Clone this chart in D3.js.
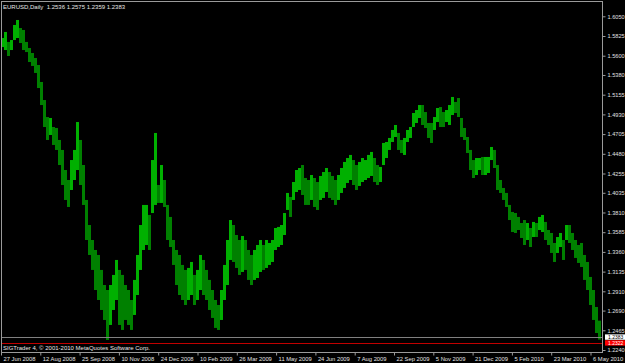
<!DOCTYPE html>
<html>
<head>
<meta charset="utf-8">
<script src="https://cdn.jsdelivr.net/npm/d3@7"></script>
<style>
  html, body { margin: 0; padding: 0; background: #000; }
  svg { display: block; }
  text { font-family: "Liberation Sans", Arial, sans-serif; }
</style>
</head>
<body>
<svg id="chart" width="625" height="363"></svg>
<script>
// EURUSD daily, each entry ~3 trading days (high / low)
const hi = [
  1.5802, 1.5871, 1.5757, 1.5779, 1.5951, 1.6008, 1.5916, 1.5894, 1.5757, 1.5688,
  1.5631, 1.5574, 1.5494, 1.5300, 1.5094, 1.4900, 1.4889, 1.4786, 1.4775, 1.4638,
  1.4524, 1.4295, 1.4181, 1.4409, 1.4524, 1.4843, 1.4638, 1.4352, 1.3953, 1.3667,
  1.3496, 1.3382, 1.3325, 1.3154, 1.2982, 1.2925, 1.2982, 1.3097, 1.3268, 1.3154,
  1.3097, 1.2982, 1.2925, 1.2811, 1.3040, 1.3325, 1.3667, 1.3896, 1.3896, 1.3782,
  1.4409, 1.4718, 1.4124, 1.4352, 1.4181, 1.3896, 1.3759, 1.3496, 1.3382, 1.3325,
  1.3211, 1.3154, 1.3177, 1.3245, 1.3097, 1.3154, 1.3325, 1.3268, 1.3154, 1.3040,
  1.2925, 1.2811, 1.2754, 1.2925, 1.3211, 1.3496, 1.3724, 1.3667, 1.3553, 1.3496,
  1.3542, 1.3496, 1.3382, 1.3325, 1.3382, 1.3439, 1.3496, 1.3439, 1.3496, 1.3462,
  1.3496, 1.3633, 1.3645, 1.3667, 1.3804, 1.4033, 1.3987, 1.4158, 1.4295, 1.4318,
  1.4352, 1.4204, 1.4181, 1.4238, 1.4204, 1.4158, 1.4227, 1.4272, 1.4318, 1.4272,
  1.4227, 1.4181, 1.4238, 1.4318, 1.4387, 1.4432, 1.4467, 1.4409, 1.4352, 1.4387,
  1.4432, 1.4409, 1.4467, 1.4501, 1.4432, 1.4352, 1.4330, 1.4604, 1.4615, 1.4661,
  1.4752, 1.4809, 1.4718, 1.4638, 1.4661, 1.4752, 1.4786, 1.4946, 1.4980, 1.5037,
  1.5037, 1.4957, 1.4832, 1.4832, 1.4900, 1.5003, 1.5014, 1.4957, 1.4980, 1.5037,
  1.5129, 1.5072, 1.5117, 1.4889, 1.4775, 1.4672, 1.4524, 1.4409, 1.4432, 1.4432,
  1.4444, 1.4444, 1.4444, 1.4558, 1.4524, 1.4352, 1.4181, 1.4090, 1.4033, 1.3896,
  1.3816, 1.3804, 1.3759, 1.3690, 1.3724, 1.3690, 1.3633, 1.3702, 1.3690, 1.3759,
  1.3782, 1.3702, 1.3610, 1.3576, 1.3462, 1.3530, 1.3576, 1.3496, 1.3667, 1.3667,
  1.3576, 1.3496, 1.3439, 1.3462, 1.3325, 1.3245, 1.3074, 1.2925, 1.2731, 1.2575
];
const lo = [
  1.5699, 1.5665, 1.5597, 1.5665, 1.5779, 1.5802, 1.5745, 1.5665, 1.5642, 1.5528,
  1.5483, 1.5403, 1.5231, 1.5037, 1.4786, 1.4638, 1.4695, 1.4581, 1.4524, 1.4352,
  1.4124, 1.3953, 1.3873, 1.4067, 1.4181, 1.4295, 1.4124, 1.3896, 1.3496, 1.3325,
  1.3154, 1.2925, 1.2811, 1.2697, 1.2583, 1.2355, 1.2526, 1.2697, 1.2811, 1.2526,
  1.2469, 1.2583, 1.2526, 1.2469, 1.2640, 1.2868, 1.3154, 1.3382, 1.3439, 1.3382,
  1.3804, 1.3896, 1.3919, 1.3919, 1.3873, 1.3496, 1.3416, 1.3211, 1.2982, 1.2868,
  1.2811, 1.2754, 1.2811, 1.2868, 1.2754, 1.2811, 1.2925, 1.2868, 1.2811, 1.2697,
  1.2606, 1.2492, 1.2469, 1.2583, 1.2811, 1.2982, 1.3268, 1.3245, 1.3177, 1.3097,
  1.3131, 1.3154, 1.3040, 1.2982, 1.3040, 1.3062, 1.3131, 1.3154, 1.3177, 1.3211,
  1.3245, 1.3382, 1.3416, 1.3439, 1.3553, 1.3839, 1.3759, 1.3953, 1.4044, 1.4067,
  1.4010, 1.3896, 1.3896, 1.3953, 1.3873, 1.3839, 1.3953, 1.3976, 1.4044, 1.3976,
  1.3953, 1.3896, 1.3953, 1.4033, 1.4090, 1.4147, 1.4181, 1.4124, 1.4067, 1.4113,
  1.4158, 1.4181, 1.4204, 1.4227, 1.4158, 1.4124, 1.4158, 1.4352, 1.4432, 1.4524,
  1.4615, 1.4672, 1.4524, 1.4489, 1.4467, 1.4615, 1.4661, 1.4786, 1.4832, 1.4889,
  1.4809, 1.4775, 1.4661, 1.4604, 1.4752, 1.4843, 1.4786, 1.4786, 1.4843, 1.4809,
  1.4923, 1.4946, 1.4900, 1.4672, 1.4638, 1.4489, 1.4295, 1.4204, 1.4238, 1.4295,
  1.4238, 1.4238, 1.4261, 1.4409, 1.4318, 1.4067, 1.4033, 1.3953, 1.3873, 1.3724,
  1.3587, 1.3576, 1.3610, 1.3519, 1.3439, 1.3496, 1.3416, 1.3530, 1.3530, 1.3610,
  1.3587, 1.3496, 1.3439, 1.3348, 1.3245, 1.3348, 1.3416, 1.3268, 1.3496, 1.3462,
  1.3382, 1.3291, 1.3234, 1.3188, 1.3040, 1.2925, 1.2754, 1.2583, 1.2434, 1.2359
];

const priceTicks = [1.6050, 1.5825, 1.5600, 1.5380, 1.5155, 1.4930, 1.4705, 1.4480, 1.4255,
  1.4035, 1.3810, 1.3585, 1.3360, 1.3135, 1.2910, 1.2690, 1.2465, 1.2240];

const dateLabels = ['27 Jun 2008', '12 Aug 2008', '25 Sep 2008', '10 Nov 2008', '24 Dec 2008',
  '10 Feb 2009', '26 Mar 2009', '11 May 2009', '24 Jun 2009', '7 Aug 2009', '22 Sep 2009',
  '5 Nov 2009', '21 Dec 2009', '5 Feb 2010', '23 Mar 2010', '6 May 2010'];
const barsPerLabel = 13.1;

const title = 'EURUSD,Daily  1.2536 1.2575 1.2359 1.2383';
const footer = 'SIGTrader 4, \u00a9 2001-2010 MetaQuotes Software Corp.';
const bidPrice = 1.2383;
const redPrice = 1.2322;

const svg = d3.select('#chart'),
  plot = { left: 1, top: 1, right: 602, bottom: 352 };

const x = d3.scaleLinear().domain([0, hi.length]).range([1, 601]);
const y = d3.scaleLinear().domain([1.2240, 1.6050]).range([350, 16.3]);

svg.append('rect')
  .attr('width', 625).attr('height', 363).attr('fill', '#000');

// bars
svg.append('g')
  .selectAll('rect')
  .data(hi)
  .enter()
  .append('rect')
  .attr('x', (d, i) => x(i))
  .attr('y', d => y(d))
  .attr('width', (d, i) => x(i + 1) - x(i))
  .attr('height', (d, i) => Math.max(1, y(lo[i]) - y(d)))
  .attr('fill', (d, i) => {
    const prev = i > 0 ? hi[i - 1] + lo[i - 1] : d + lo[i];
    return d + lo[i] >= prev ? '#00b000' : '#008000';
  });

// bid line and red level
svg.append('line')
  .attr('x1', plot.left).attr('x2', plot.right)
  .attr('y1', Math.round(y(bidPrice)) + 0.5).attr('y2', Math.round(y(bidPrice)) + 0.5)
  .attr('stroke', '#808080');
svg.append('line')
  .attr('x1', plot.left).attr('x2', plot.right)
  .attr('y1', Math.round(y(redPrice)) + 0.5).attr('y2', Math.round(y(redPrice)) + 0.5)
  .attr('stroke', '#c00000');

// frame
svg.append('rect')
  .attr('x', plot.left + 0.5).attr('y', plot.top + 0.5)
  .attr('width', plot.right - plot.left).attr('height', plot.bottom - plot.top)
  .attr('fill', 'none').attr('stroke', '#9a9a9a');

// right price axis
const yAxis = g =>
  g
    .attr('transform', `translate(${plot.right + 0.5},0)`)
    .call(d3.axisRight(y).tickValues(priceTicks).tickFormat(d3.format('.4f')).tickSize(3).tickPadding(2))
    .call(g => g.select('.domain').remove())
    .call(g => g.selectAll('line').attr('stroke', '#9a9a9a'))
    .call(g => g.selectAll('text').attr('fill', '#e0e0e0').attr('font-size', 5.6));

svg.append('g').call(yAxis);

// date axis
const xAxis = g =>
  g
    .attr('transform', `translate(0,${plot.bottom + 0.5})`)
    .call(d3.axisBottom(x)
      .tickValues(dateLabels.map((d, i) => i * barsPerLabel))
      .tickFormat((d, i) => dateLabels[i])
      .tickSize(3))
    .call(g => g.select('.domain').remove())
    .call(g => g.selectAll('line').attr('stroke', '#9a9a9a'))
    .call(g => g.selectAll('text')
      .attr('fill', '#e0e0e0').attr('font-size', 5.8)
      .attr('text-anchor', 'start').attr('dx', 2).attr('y', 3).attr('dy', '0.95em'));

svg.append('g').call(xAxis);

// price boxes on the axis
const boxes = [
  { price: bidPrice, fill: '#ffffff', text: '#000000', off: -0.5 },
  { price: redPrice, fill: '#ff0000', text: '#ffffff', off: 0 }
];
const box = svg.append('g').selectAll('g').data(boxes).enter().append('g')
  .attr('transform', d => `translate(${plot.right + 3},${y(d.price) + d.off})`);
box.append('rect')
  .attr('x', 0).attr('y', -2.6).attr('width', 21).attr('height', 5.4)
  .attr('fill', d => d.fill);
box.append('text')
  .attr('x', 3).attr('y', 0).attr('dy', '0.35em')
  .attr('font-size', 5).attr('fill', d => d.text)
  .text(d => d3.format('.4f')(d.price));

// captions
svg.append('text')
  .attr('x', 3).attr('y', 9)
  .attr('font-size', 6).attr('fill', '#e6e6e6')
  .attr('xml:space', 'preserve')
  .text(title);
svg.append('text')
  .attr('x', 3).attr('y', 349.5)
  .attr('font-size', 6).attr('fill', '#e6e6e6')
  .text(footer);
</script>
</body>
</html>
